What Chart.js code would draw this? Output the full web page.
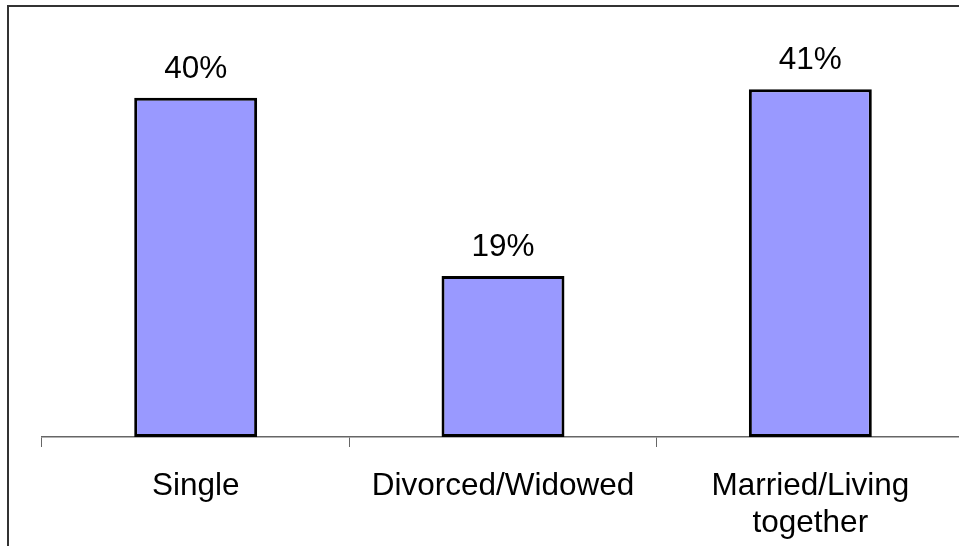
<!DOCTYPE html>
<html>
<head>
<meta charset="utf-8">
<title>Marital status</title>
<script src="https://cdn.jsdelivr.net/npm/chart.js@4/dist/chart.umd.min.js"></script>
<style>
    html, body { margin: 0; padding: 0; background: #fff; overflow: hidden; }
    #wrap { position: absolute; left: 0; top: 0; width: 959px; height: 546px; overflow: hidden; }
</style>
</head>
<body>
<div id="wrap"><canvas id="grafico" width="980" height="546"></canvas></div>
<script>
// categorias e valores (%)
const categorias = ["Single", "Divorced/Widowed", ["Married/Living", "together"]];
const valores = [40, 19, 41];
const eixoMax = 50;

const fonte = "'Liberation Sans', Arial, Helvetica, sans-serif";
const tamanho = 31.5;

// moldura externa (so topo e esquerda aparecem)
const moldura = {
    id: "moldura",
    afterDraw(chart) {
        const ctx = chart.ctx;
        ctx.save();
        ctx.strokeStyle = "#333";
        ctx.lineWidth = 2;
        ctx.beginPath();
        ctx.moveTo(8, chart.height);
        ctx.lineTo(8, 6);
        ctx.lineTo(chart.width, 6);
        ctx.stroke();
        ctx.restore();
    }
};

// escreve o valor em cima de cada barra
const rotulos = {
    id: "rotulos",
    afterDatasetsDraw(chart) {
        const ctx = chart.ctx;
        const meta = chart.getDatasetMeta(0);
        ctx.save();
        ctx.font = tamanho + "px " + fonte;
        ctx.fillStyle = "#000";
        ctx.textAlign = "center";
        ctx.textBaseline = "alphabetic";
        meta.data.forEach((bar, i) => {
            ctx.fillText(valores[i] + "%", bar.x, bar.y - 20);
        });
        ctx.restore();
    }
};

new Chart(document.getElementById("grafico").getContext("2d"), {
    type: "bar",
    data: {
        labels: categorias,
        datasets: [{
            data: valores,
            backgroundColor: "#9999ff",
            borderColor: "#000",
            borderWidth: 3,
            borderSkipped: false,
            categoryPercentage: 1,
            barPercentage: 0.4
        }]
    },
    options: {
        responsive: false,
        animation: false,
        devicePixelRatio: 1,
        layout: { padding: { top: 13, left: 42, right: 16, bottom: 0 } },
        plugins: {
            legend: { display: false },
            tooltip: { enabled: false }
        },
        scales: {
            x: {
                offset: true,
                grid: {
                    offset: true,
                    drawOnChartArea: false,
                    drawTicks: true,
                    tickLength: 10,
                    tickWidth: 1,
                    tickColor: "#666"
                },
                border: { display: true, color: "#666", width: 1.5 },
                ticks: {
                    color: "#000",
                    padding: 20,
                    maxRotation: 0,
                    autoSkip: false,
                    font: { family: fonte, size: tamanho, lineHeight: 1.2 }
                },
                afterFit(scale) { scale.height = 109; }
            },
            y: {
                display: false,
                min: 0,
                max: eixoMax
            }
        }
    },
    plugins: [rotulos, moldura]
});
</script>
</body>
</html>
